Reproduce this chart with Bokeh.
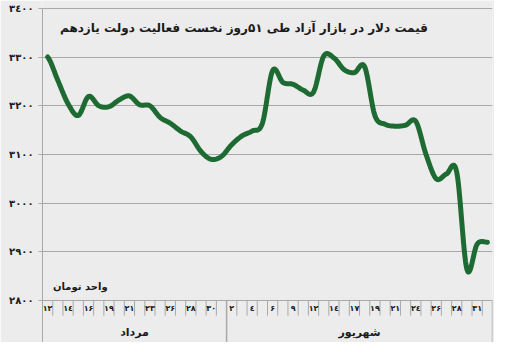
import numpy as np
from bokeh.plotting import figure
from bokeh.models import Range1d, FixedTicker
from bokeh.core.properties import value
from bokeh.embed import file_html
from bokeh.resources import INLINE

# ---- data ----
prices = [3300, 3252, 3204, 3180, 3219, 3200, 3198, 3212, 3220, 3202, 3200, 3176,
          3164, 3148, 3136, 3106, 3090, 3096,
          3120, 3138, 3148, 3164, 3272, 3248, 3244, 3232, 3228, 3302, 3298, 3274,
          3268, 3280, 3180, 3162, 3158, 3160, 3168, 3100, 3050, 3060, 3064, 2864,
          2916, 2920]
mordad_labels = ["۱۲", "۱٤", "۱۶", "۱۹", "۲۱", "۲۳", "۲۶", "۲۸", "۳۰"]
shahrivar_labels = ["۲", "٤", "۶", "۹", "۱۲", "۱٤", "۱۷", "۱۹", "۲۱", "۲٤", "۲۶", "۲۸", "۳۱"]
months = ["مرداد", "شهریور"]
month_days = [18, 26]
y_ticks = [2800, 2900, 3000, 3100, 3200, 3300, 3400]
y_labels = ["۲۸۰۰", "۲۹۰۰", "۳۰۰۰", "۳۱۰۰", "۳۲۰۰", "۳۳۰۰", "۳٤۰۰"]
title_text = "قیمت دلار در بازار آزاد  طی ۵۱روز نخست فعالیت دولت یازدهم"
unit_text = "واحد تومان"

BG = "#ececec"
GRID = "#a9a9a9"
GREEN = "#1d6b33"
TXT = "#1a1a1a"
FONT = "DejaVu Sans"

n = len(prices)
xs = np.arange(n, dtype=float)
ys = np.array(prices, dtype=float)

# smooth (Catmull-Rom style, like Excel's smoothed line)
px = np.concatenate([[2 * xs[0] - xs[1]], xs, [2 * xs[-1] - xs[-2]]])
py = np.concatenate([[ys[0]], ys, [ys[-1]]])
sx, sy = [], []
for i in range(1, n):
    p0x, p1x, p2x, p3x = px[i - 1], px[i], px[i + 1], px[i + 2]
    p0y, p1y, p2y, p3y = py[i - 1], py[i], py[i + 1], py[i + 2]
    c1x, c1y = p1x + (p2x - p0x) / 6, p1y + (p2y - p0y) / 6
    c2x, c2y = p2x - (p3x - p1x) / 6, p2y - (p3y - p1y) / 6
    t = np.linspace(0, 1, 16)[:-1] if i < n - 1 else np.linspace(0, 1, 16)
    a, b, c, d = (1 - t) ** 3, 3 * (1 - t) ** 2 * t, 3 * (1 - t) * t ** 2, t ** 3
    sx.extend(a * p1x + b * c1x + c * c2x + d * p2x)
    sy.extend(a * p1y + b * c1y + c * c2y + d * p2y)

Y_BOTTOM = 2714
Y_TOP = 3416
p = figure(width=494, height=342, x_range=Range1d(-0.5, n - 0.5),
           y_range=Range1d(Y_BOTTOM, Y_TOP), output_backend="svg",
           toolbar_location=None, x_axis_location=None,
           min_border_left=42, min_border_right=2, min_border_top=0,
           min_border_bottom=0)
p.background_fill_color = BG
p.border_fill_color = BG
p.outline_line_color = None

# y axis
p.yaxis.ticker = FixedTicker(ticks=y_ticks)
p.yaxis.bounds = (Y_BOTTOM, 3400)
p.yaxis.major_label_overrides = {t: l for t, l in zip(y_ticks, y_labels)}
p.yaxis.major_tick_out = 4
p.yaxis.major_tick_in = 0
p.yaxis.minor_tick_line_color = None
p.yaxis.axis_line_color = GRID
p.yaxis.major_tick_line_color = GRID
p.yaxis.major_label_text_font = FONT
p.yaxis.major_label_text_font_style = "bold"
p.yaxis.major_label_text_font_size = "10px"
p.yaxis.major_label_text_color = TXT
p.yaxis.major_label_standoff = 5
p.xgrid.visible = False
p.ygrid.ticker = FixedTicker(ticks=y_ticks)
p.ygrid.grid_line_color = GRID
p.ygrid.grid_line_width = 1

# category ticks below the axis
bounds = np.arange(n + 1) - 0.5
month_edges = np.cumsum([0] + month_days) - 0.5
inner = [b for b in bounds[1:-1] if b not in month_edges]
p.segment(x0=inner, y0=[2800] * len(inner), x1=inner, y1=[2769] * len(inner),
          line_color=GRID, line_width=1)
sep = list(month_edges[1:])
p.segment(x0=sep, y0=[2800] * len(sep), x1=sep, y1=[Y_BOTTOM] * len(sep),
          line_color=GRID, line_width=1.5)

# day labels
day_labels = mordad_labels + shahrivar_labels
day_x = list(range(0, n, 2))
p.text(x=day_x, y=[2784] * len(day_x), text=day_labels, text_align="center",
       text_baseline="middle", text_font=value(FONT), text_font_style="bold",
       text_font_size="8px", text_color=TXT)

# month labels
mx = [(month_edges[i] + month_edges[i + 1]) / 2 for i in range(len(months))]
p.text(x=mx, y=[2734] * len(mx), text=months, text_align="center",
       text_baseline="middle", text_font=value(FONT), text_font_style="bold",
       text_font_size="11px", text_color=TXT)

# price line
p.line(sx, sy, line_color=GREEN, line_width=5, line_join="round", line_cap="round")

# title and unit
p.text(x=[19.4], y=[3359], text=[title_text], text_align="center",
       text_baseline="middle", text_font=value(FONT), text_font_style="bold",
       text_font_size="12px", text_color=TXT)
p.text(x=[3.2], y=[2829], text=[unit_text], text_align="center",
       text_baseline="middle", text_font=value(FONT), text_font_style="bold",
       text_font_size="10px", text_color=TXT)

open("out.html", "w").write(file_html(p, INLINE))
